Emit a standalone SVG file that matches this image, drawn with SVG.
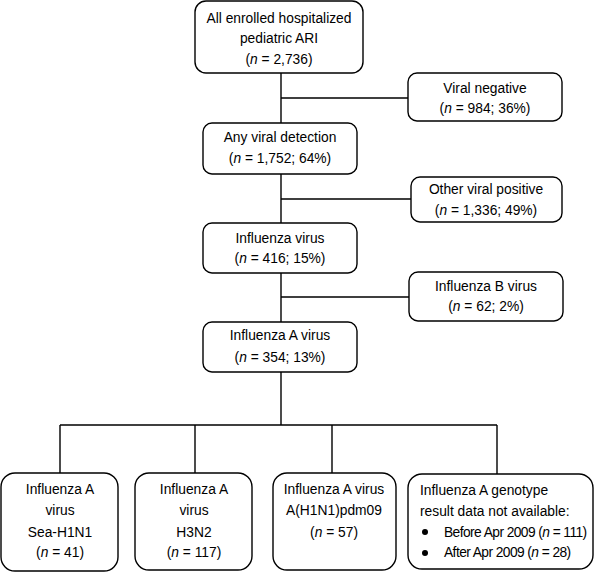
<svg xmlns="http://www.w3.org/2000/svg" width="596" height="573" viewBox="0 0 596 573">
<style>
.b{fill:#fff;stroke:#000;stroke-width:1.4}
.t{font-family:"Liberation Sans",Arial,sans-serif;font-size:13.8px;fill:#000}
.c{text-anchor:middle}
.k{letter-spacing:-0.58px}
.l{stroke:#000;stroke-width:1.4;fill:none}
</style>
<rect width="596" height="573" fill="#fff"/>
<g id="connectors">
<path class="l" d="M281 73V123M281 98H408M281 174V223M281 199H411M281 273V322M281 297H409M281 372V425M60 425H497M60 425V473M195 425V473M332 425V473M497 425V474"/>
</g>
<g id="n1"><rect class="b" x="195" y="1" width="168" height="72" rx="11"/>
<text class="t c" x="279" y="23">All enrolled hospitalized</text>
<text class="t c" x="279" y="43">pediatric ARI</text>
<text class="t c" x="279" y="64">(<tspan font-style="italic">n</tspan> = 2,736)</text></g>
<g id="n2"><rect class="b" x="408" y="73" width="154" height="48" rx="9"/>
<text class="t c" x="485" y="93">Viral negative</text>
<text class="t c" x="485" y="113">(<tspan font-style="italic">n</tspan> = 984; 36%)</text></g>
<g id="n3"><rect class="b" x="203" y="123" width="154" height="51" rx="9"/>
<text class="t c" x="280" y="142">Any viral detection</text>
<text class="t c" x="280" y="163">(<tspan font-style="italic">n</tspan> = 1,752; 64%)</text></g>
<g id="n4"><rect class="b" x="411" y="177" width="151" height="45" rx="9"/>
<text class="t c" x="486" y="194">Other viral positive</text>
<text class="t c" x="486" y="215">(<tspan font-style="italic">n</tspan> = 1,336; 49%)</text></g>
<g id="n5"><rect class="b" x="203" y="223" width="154" height="50" rx="9"/>
<text class="t c" x="280" y="243">Influenza virus</text>
<text class="t c" x="280" y="263">(<tspan font-style="italic">n</tspan> = 416; 15%)</text></g>
<g id="n6"><rect class="b" x="409" y="272" width="154" height="49" rx="9"/>
<text class="t c" x="486" y="291">Influenza B virus</text>
<text class="t c" x="486" y="311">(<tspan font-style="italic">n</tspan> = 62; 2%)</text></g>
<g id="n7"><rect class="b" x="203" y="322" width="154" height="50" rx="9"/>
<text class="t c" x="280" y="340">Influenza A virus</text>
<text class="t c" x="280" y="362">(<tspan font-style="italic">n</tspan> = 354; 13%)</text></g>
<g id="n8"><rect class="b" x="1" y="473" width="117" height="98" rx="14"/>
<text class="t c" x="60" y="494">Influenza A</text>
<text class="t c" x="60" y="515">virus</text>
<text class="t c" x="60" y="537">Sea-H1N1</text>
<text class="t c" x="60" y="557">(<tspan font-style="italic">n</tspan> = 41)</text></g>
<g id="n9"><rect class="b" x="135" y="473" width="117" height="97" rx="14"/>
<text class="t c" x="194" y="494">Influenza A</text>
<text class="t c" x="194" y="515">virus</text>
<text class="t c" x="194" y="537">H3N2</text>
<text class="t c" x="194" y="557">(<tspan font-style="italic">n</tspan> = 117)</text></g>
<g id="n10"><rect class="b" x="273" y="473" width="123" height="97" rx="14"/>
<text class="t c" x="334" y="494">Influenza A virus</text>
<text class="t c" x="334" y="515">A(H1N1)pdm09</text>
<text class="t c" x="334" y="537">(<tspan font-style="italic">n</tspan> = 57)</text></g>
<g id="n11"><rect class="b" x="408" y="474" width="185" height="95" rx="14"/>
<text class="t" x="420" y="495">Influenza A genotype</text>
<text class="t" x="420" y="516">result data not available:</text>
<circle cx="425" cy="532" r="3"/>
<text class="t k" x="444" y="537">Before Apr 2009 (<tspan font-style="italic">n</tspan> = 111)</text>
<circle cx="425" cy="553" r="3"/>
<text class="t k" x="444" y="557">After Apr 2009 (<tspan font-style="italic">n</tspan> = 28)</text></g>
</svg>
